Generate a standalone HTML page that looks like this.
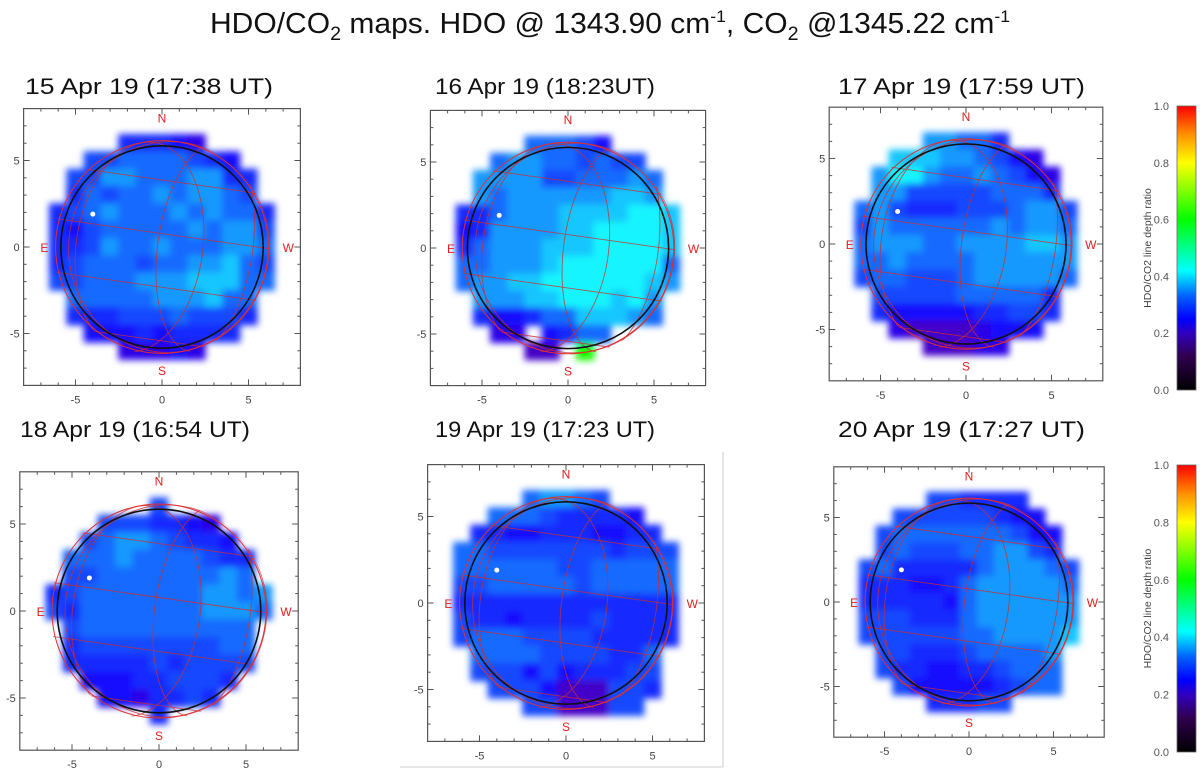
<!DOCTYPE html>
<html><head><meta charset="utf-8"><style>
html,body{margin:0;padding:0;background:#fff;}
svg{display:block;font-family:"Liberation Sans",sans-serif;}
</style></head><body>
<svg id="root" width="1200" height="776" viewBox="0 0 1200 776" xmlns="http://www.w3.org/2000/svg">
<defs>
<linearGradient id="cbar" x1="0" y1="1" x2="0" y2="0">
<stop offset="0" stop-color="#000000"/><stop offset="0.12" stop-color="#300050"/><stop offset="0.2" stop-color="#3000c0"/><stop offset="0.25" stop-color="#0000ff"/><stop offset="0.33" stop-color="#0060ff"/><stop offset="0.42" stop-color="#00ffff"/><stop offset="0.6" stop-color="#00ff00"/><stop offset="0.8" stop-color="#ffff00"/><stop offset="0.9" stop-color="#ff9000"/><stop offset="1" stop-color="#ff0000"/>
</linearGradient>
<filter id="blur" x="-20%" y="-20%" width="140%" height="140%"><feGaussianBlur stdDeviation="3.5"/></filter>
</defs>
<text x="210" y="33" font-family="'Liberation Sans',sans-serif" font-size="29" fill="#111" textLength="800" lengthAdjust="spacingAndGlyphs">HDO/CO<tspan font-size="19" dy="7">2</tspan><tspan dy="-7"> maps.  HDO @ 1343.90 cm</tspan><tspan font-size="17" dy="-11">-1</tspan><tspan dy="11">, CO</tspan><tspan font-size="19" dy="7">2</tspan><tspan dy="-7"> @1345.22 cm</tspan><tspan font-size="17" dy="-11">-1</tspan></text>
<g id="panels"></g>
<line x1="723" y1="452" x2="723" y2="767" stroke="#ddd" stroke-width="1.5"/>
<line x1="400" y1="767" x2="723" y2="767" stroke="#ddd" stroke-width="1.5"/>
<g id="cbars"></g>
</svg>
<script>
const NS="http://www.w3.org/2000/svg";
const panelTitles=["15 Apr 19 (17:38 UT)","16 Apr 19 (18:23UT)","17 Apr 19 (17:59 UT)","18  Apr 19 (16:54 UT)","19 Apr 19 (17:23 UT)","20 Apr 19 (17:27 UT)"];
const xTickLabels=["-5","0","5"];
const xTickValues=[-5,0,5];
const cbarTicks=[0,0.2,0.4,0.6,0.8,1.0];
// grid values: digit d -> ratio 0.18 + d*0.026 ; 'g' = green spot (0.6); '.' = off disk. rows from y=+6 to y=-6
const grid1=["....44432....","..556666543..",".55776667744.",".46566767765.","4567666767664","4356666676775","4457667666776","4566656677865","5566677788866",".66666777866.",".44455565554.","..333434444..","....22232...."];
const grid2=["....66653....","..677665655..",".77775566676.",".76777777887.","4467778888998","3477778899998","4677788899998","6677789999996","6778899999987",".77788999897.",".43346688876.","..22.3466....","....11.g....."];
const grid3=["....77664....","..888776532..",".79976676532.",".77555556664.","6754445556775","5766666676776","6777667777887","6676666777777","5665556777776",".55555666664.",".43333344554.","..211112333..","....11122...."];
const grid4=["......5......","...5554432...","..567765443..",".66676666544.",".55666666676.","4566666667767","5466666667776",".56666666666.",".45555555566.",".44444545555.","..333445554..","...3324454...","......4......"];
const grid5=["....67765....","..666544443..",".44334443344.","6655555554555","6666665566666","5566666566666","4444444444444","5443444454444","5666555544444",".66665555446.",".55535344455.","..5553111554.","....5511155.."];
const grid6=["....554444...","..555555433..",".56666666533.",".56555667754.","5644444677765","4443346777776","4444436777777","5554446777777","5555556677778",".55444566667.",".54433445666.","..5333334566.","....44455...."];
const grids=[grid1,grid2,grid3,grid4,grid5,grid6];
// layout (not data)
const layout=[
 {cx:162,cy:247,s:17.3,tx:25,ty:94,tw:248},
 {cx:568,cy:248,s:17.2,tx:435,ty:94,tw:220},
 {cx:966,cy:244,s:17.1,tx:838,ty:94,tw:247},
 {cx:159,cy:611,s:17.4,tx:20,ty:437,tw:230},
 {cx:566,cy:603,s:17.3,tx:435,ty:437,tw:220},
 {cx:969,cy:602,s:16.9,tx:838,ty:437,tw:247}];
const stops=[[0,[0,0,0]],[0.12,[48,0,80]],[0.2,[48,0,192]],[0.25,[0,0,255]],[0.33,[0,96,255]],[0.42,[0,255,255]],[0.6,[0,255,0]],[0.8,[255,255,0]],[0.9,[255,144,0]],[1,[255,0,0]]];
function cmap(v){for(let i=1;i<stops.length;i++){if(v<=stops[i][0]){const a=stops[i-1],b=stops[i];const t=(v-a[0])/(b[0]-a[0]);const c=a[1].map((x,k)=>Math.round(x+(b[1][k]-x)*t));return `rgb(${Math.min(255,c[0]+25)},${c[1]},${c[2]})`;}}return "rgb(255,0,0)";}
function el(tag,attrs,parent){const e=document.createElementNS(NS,tag);for(const k in attrs)e.setAttribute(k,attrs[k]);parent.appendChild(e);return e;}
const root=document.getElementById('panels');
layout.forEach((L,p)=>{
 const X=u=>L.cx+u*L.s, Y=u=>L.cy-u*L.s;
 const g=el('g',{},root);
 
 
 const t=el('text',{x:L.tx,y:L.ty,'font-size':22,fill:'#111',textLength:L.tw,lengthAdjust:'spacingAndGlyphs'},g);
 t.textContent=panelTitles[p];
 
 
 const hm=el('g',{filter:'url(#blur)'},g);
 
 
 grids[p].forEach((row,r)=>{for(let c=0;c<row.length;c++){const ch=row[c];if(ch==='.')continue;
  const v=ch==='g'?0.6:0.18+parseInt(ch)*0.026;const ux=-6.5+c, uy=6.5-r;
  const cell=el('rect',{x:X(ux)-0.5,y:Y(uy)-0.5,width:L.s+1,height:L.s+1,fill:cmap(v)},hm);
  
  }});
 const fr=el('rect',{x:X(-8),y:Y(8),width:16*L.s,height:16*L.s,fill:'none',stroke:'#555','stroke-width':1.2},g);
 
 
 for(let u=-7;u<=7;u++){const len=(u%5===0)?6:3;
  el('line',{x1:X(u),y1:Y(-8),x2:X(u),y2:Y(-8)-len,stroke:'#555'},g);
  el('line',{x1:X(u),y1:Y(8),x2:X(u),y2:Y(8)+len,stroke:'#555'},g);
  el('line',{x1:X(-8),y1:Y(u),x2:X(-8)+len,y2:Y(u),stroke:'#555'},g);
  el('line',{x1:X(8),y1:Y(u),x2:X(8)-len,y2:Y(u),stroke:'#555'},g);}
 xTickValues.forEach((v,i)=>{
  const a=el('text',{x:X(v),y:Y(-8)+18,'font-size':11,fill:'#444','text-anchor':'middle'},g);a.textContent=xTickLabels[i];
  
  
  const b=el('text',{x:X(-8)-4,y:Y(v)+4,'font-size':11,fill:'#444','text-anchor':'end'},g);b.textContent=xTickLabels[i];
  
  });
 const cid='clip'+p;const cp=el('clipPath',{id:cid},g);el('circle',{cx:X(0),cy:Y(0),r:6.25*L.s},cp);
 const rg=el('g',{'clip-path':`url(#${cid})`,stroke:'#c83030','stroke-width':0.9,fill:'none',opacity:0.8},g);
 
 
 const ang=8;
 [-6.2,-3.1,0,3.1].forEach(o=>{el('line',{x1:X(-8),y1:Y(o+1.9),x2:X(8),y2:Y(o-0.35),},rg);});
 [[0.6,-1.3],[0.95,0.4],[0.45,2.5]].forEach(m=>{el('ellipse',{cx:X(m[1]),cy:Y(0),rx:m[0]*6.1*L.s,ry:6.1*L.s,transform:`rotate(${ang} ${X(m[1])} ${Y(0)})`},rg);});
 el('circle',{cx:X(0),cy:Y(0),r:6.15*L.s,stroke:'#e03030',fill:'none','stroke-width':1},g);
 const ol=el('circle',{cx:X(0),cy:Y(0),r:5.85*L.s,stroke:'#111',fill:'none','stroke-width':1.6},g);
 
 
 const dot=el('circle',{cx:X(-4),cy:Y(1.9),r:2.5,fill:'#fff'},g);
 
 
 [['N',0,7.2],['S',0,-7.4],['E',-6.8,-0.3],['W',7.3,-0.3]].forEach(d=>{
  const a=el('text',{x:X(d[1]),y:Y(d[2]),'font-size':12,fill:'#e02020','text-anchor':'middle'},g);a.textContent=d[0];
  
  });
});
const cb=document.getElementById('cbars');
[[106,390],[465,752]].forEach((b,i)=>{
 const g=el('g',{},cb);
 
 
 el('rect',{x:1177,y:b[0],width:19,height:b[1]-b[0],fill:'url(#cbar)',stroke:'#666','stroke-width':0.8},g);
 cbarTicks.forEach(v=>{const y=b[1]-v*(b[1]-b[0]);
  const t=el('text',{x:1169,y:y+4,'font-size':11,fill:'#555','text-anchor':'end'},g);t.textContent=v.toFixed(1);
  
  });
 const cy=(b[0]+b[1])/2;
 const lab=el('text',{x:1151,y:cy,'font-size':10.5,fill:'#444','text-anchor':'middle',transform:`rotate(-90 1151 ${cy})`},g);
 lab.textContent='HDO/CO2 line depth ratio';
 
 
});
</script>
</body></html>
